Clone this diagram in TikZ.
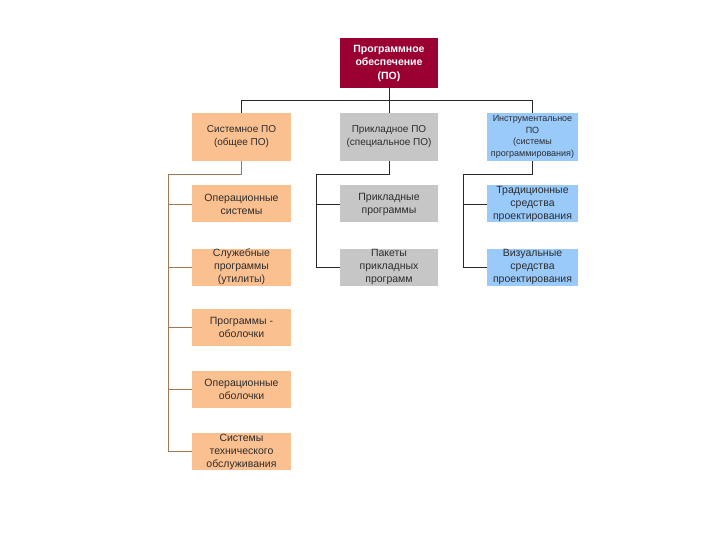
\documentclass[tikz,border=0pt]{standalone}
\usepackage{fontspec}
\setmainfont{Liberation Sans}
\definecolor{rootc}{RGB}{155,0,50}
\definecolor{orangec}{RGB}{250,192,144}
\definecolor{grayc}{RGB}{198,198,198}
\definecolor{bluec}{RGB}{153,202,250}
\definecolor{txtc}{RGB}{45,45,45}
\definecolor{brownc}{RGB}{160,120,85}
\definecolor{darkc}{RGB}{40,40,40}
\begin{document}
\begin{tikzpicture}[x=1pt,y=-1pt,
  box/.style={inner sep=0pt,align=center,text=txtc,font=\fontsize{10.5}{13}\selectfont},
  rootbox/.style={box,fill=rootc,text=white,font=\fontsize{10.5}{13.5}\selectfont\bfseries,minimum width=98pt,minimum height=50pt},
  lvl/.style={box,minimum height=48pt,font=\fontsize{10}{13}\selectfont},
  kid/.style={box,minimum height=37pt},
  sysbox/.style={fill=orangec,minimum width=99pt},
  appbox/.style={fill=grayc,minimum width=98pt},
  insbox/.style={fill=bluec,minimum width=91pt},
  mainline/.style={draw=darkc,line width=0.8pt},
  sysline/.style={draw=brownc,line width=0.8pt}
]
\useasboundingbox (0,0) rectangle (720,540);
\node[rootbox] (root) at (389,63) {Программное\\обеспечение\\(ПО)};
\node[lvl,sysbox] (sys) at (241.5,137) {Системное ПО\\(общее ПО)};
\node[lvl,appbox] (app) at (389,137) {Прикладное ПО\\(специальное ПО)};
\node[lvl,insbox,font=\fontsize{9}{11.5}\selectfont] (ins) at (532.5,137) {Инструментальное\\ПО\\(системы\\программирования)};

\node[kid,sysbox] (s1) at (241.5,204) {Операционные\\системы};
\node[kid,sysbox] (s2) at (241.5,267) {Служебные\\программы\\(утилиты)};
\node[kid,sysbox] (s3) at (241.5,327.5) {Программы -\\оболочки};
\node[kid,sysbox] (s4) at (241.5,389.5) {Операционные\\оболочки};
\node[kid,sysbox] (s5) at (241.5,451.5) {Системы\\технического\\обслуживания};

\node[kid,appbox] (a1) at (389,204) {Прикладные\\программы};
\node[kid,appbox] (a2) at (389,267) {Пакеты\\прикладных\\программ};

\node[kid,insbox] (i1) at (532.5,204) {Традиционные\\средства\\проектирования};
\node[kid,insbox] (i2) at (532.5,267) {Визуальные\\средства\\проектирования};

% top bus
\coordinate (bus) at (389,100);
\draw[mainline] (root.south) -- (bus);
\draw[mainline] (sys.north) |- (bus);
\draw[mainline] (app.north) -- (bus);
\draw[mainline] (ins.north) |- (bus);

% system branch
\coordinate (sk) at (168,174);
\draw[sysline] (sys.south) |- (sk) |- (s5.west);
\foreach \n in {s1,s2,s3,s4} \draw[sysline] (sk |- \n.west) -- (\n.west);

% application branch
\coordinate (ak) at (316,174);
\draw[mainline] (app.south) |- (ak) |- (a2.west);
\draw[mainline] (ak |- a1.west) -- (a1.west);

% tools branch
\coordinate (ik) at (463,174);
\draw[mainline] (ins.south) |- (ik) |- (i2.west);
\draw[mainline] (ik |- i1.west) -- (i1.west);
\end{tikzpicture}
\end{document}
